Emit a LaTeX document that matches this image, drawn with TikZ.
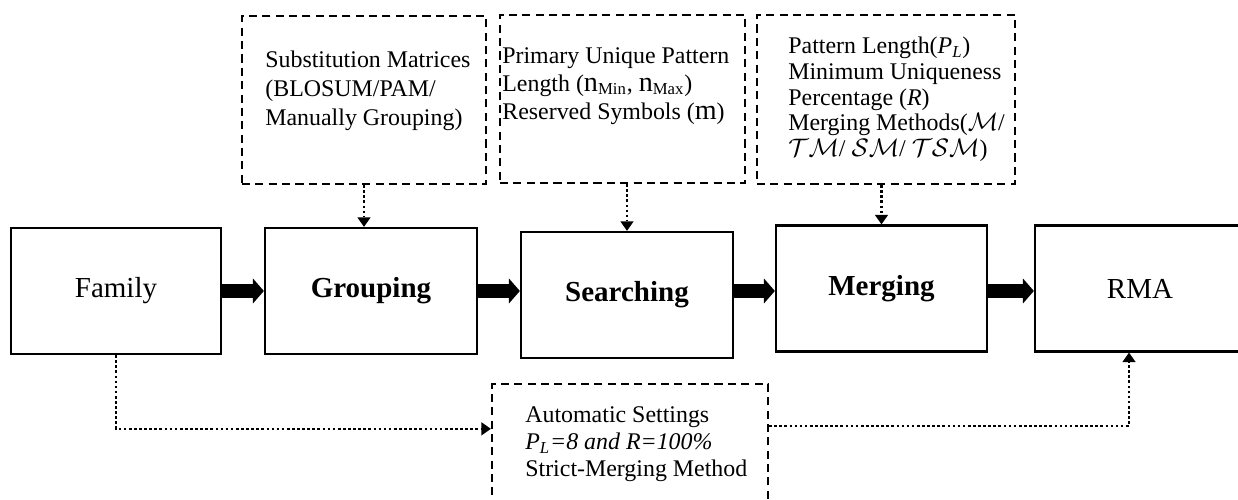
\documentclass[tikz,border=0pt]{standalone}
\usepackage{fontspec}
\setmainfont{Liberation Serif}
\usepackage{tikz}
\usetikzlibrary{arrows.meta}

\begin{document}
\begin{tikzpicture}[
    stage/.style={draw,line width=1.3pt,minimum height=2.52cm,inner sep=0pt,font=\fontsize{16.5}{18}\selectfont},
    parbox/.style={draw,dash pattern=on 4.6pt off 3pt,line width=1.3pt,inner sep=0pt},
    partext/.style={anchor=north west,align=left,inner sep=0pt},
    fat/.style={line width=8.5pt,-{Triangle[length=6.2pt,width=14.2pt,line width=0pt]}},
    dots/.style={line width=1.5pt,dash pattern=on 1.5pt off 1.4pt,-{Triangle[length=5.4pt,width=7.6pt,line width=0pt]}}
  ]
  \useasboundingbox (0,0) rectangle (24.76,10);

  % main chain
  \node[stage,minimum width=4.2cm] (family) at (2.32,4.18) {Family};
  \node[stage,minimum width=4.24cm] (grouping) at (7.42,4.18) {\textbf{Grouping}};
  \node[stage,minimum width=4.24cm] (searching) at (12.54,4.10) {\textbf{Searching}};
  \node[stage,minimum width=4.22cm] (merging) at (17.63,4.23) {\textbf{Merging}};
  \node[stage,minimum width=4.2cm] (rma) at (22.8,4.23) {RMA};

  \draw[fat] (family.east) -- (family.east -| grouping.west);
  \draw[fat] (grouping.east) -- (grouping.east -| searching.west);
  \draw[fat] (searching.east |- grouping.east) -- (grouping.east -| merging.west);
  \draw[fat] (merging.east |- grouping.east) -- (grouping.east -| rma.west);

  % parameter boxes
  \node[parbox,minimum width=4.88cm,minimum height=3.36cm] (subst) at (7.28,8.0) {};
  \node[partext,font=\fontsize{13.6}{16.4}\selectfont] (substtxt) at (5.3,8.98)
    {Substitution Matrices\\(BLOSUM/PAM/\\Manually Grouping)};

  \node[parbox,minimum width=4.9cm,minimum height=3.36cm] (prim) at (12.45,8.02) {};
  \node[partext,font=\fontsize{13.6}{15.9}\selectfont] (primtxt) at (10.04,9.06)
    {Primary Unique Pattern\\
     Length ({\fontsize{16}{16}\selectfont n}\textsubscript{Min}, {\fontsize{16}{16}\selectfont n}\textsubscript{Max})\\
     Reserved Symbols ({\fontsize{16}{16}\selectfont m})};

  \node[parbox,minimum width=5.16cm,minimum height=3.38cm] (mpar) at (17.72,8.01) {};
  \node[partext,font=\fontsize{13.6}{14.6}\selectfont] (mpartxt) at (15.76,9.26)
    {Pattern Length(\textit{P}\textsubscript{\textit{L}})\\
     Minimum Uniqueness\\
     Percentage (\textit{R})\\
     Merging Methods($\mathcal{M}$/\\
     $\mathcal{TM}$/ $\mathcal{SM}$/ $\mathcal{TSM}$)};

  \node[parbox,minimum width=5.52cm,minimum height=2.92cm] (auto) at (12.6,0.86) {};
  \node[partext,font=\fontsize{13.6}{15.6}\selectfont] (autotxt) at (10.5,1.88)
    {Automatic Settings\\
     \textit{P}\textsubscript{\textit{L}}\textit{=8 and R=100\%}\\
     Strict-Merging Method};

  \draw[dots] (subst.south) -- (subst.south |- grouping.north);
  \draw[dots] (searching.north |- prim.south) -- (searching.north);
  \draw[dots] (merging.north |- mpar.south) -- (merging.north);

  \draw[dots] (family.south) |- ([yshift=-0.92cm]auto.north west);
  \draw[dots] ([yshift=-0.86cm]auto.north east) -| ([xshift=-0.22cm]rma.south);
\end{tikzpicture}
\end{document}
